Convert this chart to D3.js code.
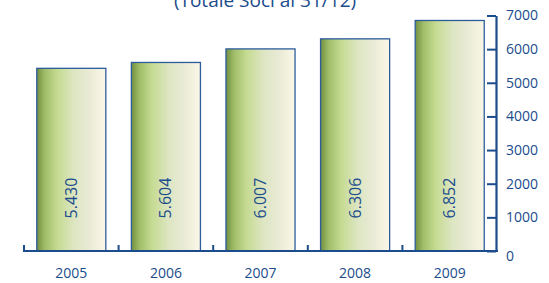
<!DOCTYPE html>
<html>
<head>
<meta charset="utf-8">
<script src="https://cdn.jsdelivr.net/npm/d3@7"></script>
<style>
  body { margin: 0; background: #fff; }
  svg { display: block; font-family: "Open Sans", "Noto Sans", sans-serif; }
</style>
</head>
<body>
<svg width="549" height="283"></svg>
<script>
let years = ["2005", "2006", "2007", "2008", "2009"];
let soci = [5430, 5604, 6007, 6306, 6852];
let yTicks = [0, 1000, 2000, 3000, 4000, 5000, 6000, 7000];
let title = "(Totale Soci al 31/12)";

let blue = "#1b4c8c";
let svg = d3.select("svg");

let x = d3.scaleBand()
    .domain(years)
    .range([24, 497])
    .paddingInner(0.27)
    .paddingOuter(0.135);

let y = d3.scaleLinear()
    .domain([0, 7000])
    .range([251, 15.5]);

// gradient for the bars
let grad = svg.append("defs").append("linearGradient")
    .attr("id", "barGrad")
    .attr("x1", "0%").attr("x2", "100%");
[["0%", "#718f40"], ["12%", "#a1be6a"], ["30%", "#c5db92"], ["55%", "#dee6c4"], ["75%", "#e8ead4"], ["100%", "#fbf7e8"]]
  .forEach(function(s){
    grad.append("stop").attr("offset", s[0]).attr("stop-color", s[1]);
  });

// title (cut at top, as in the original)
svg.append("text")
    .attr("x", 265)
    .attr("y", 7)
    .attr("text-anchor", "middle")
    .attr("fill", blue)
    .style("font-size", "19px")
    .text(title);

// bars
svg.selectAll(".bar")
    .data(soci)
    .enter()
    .append("rect")
    .attr("class", "bar")
    .attr("x", function(d, i){ return x(years[i]); })
    .attr("y", function(d){ return y(d); })
    .attr("width", x.bandwidth())
    .attr("height", function(d){ return y(0) - y(d); })
    .attr("fill", "url(#barGrad)")
    .attr("stroke", "#2c5c9c")
    .attr("stroke-width", 1.3);

// value labels, rotated
svg.selectAll(".val")
    .data(soci)
    .enter()
    .append("text")
    .attr("class", "val")
    .attr("transform", function(d, i){
      return `translate(${x(years[i]) + x.bandwidth() / 2 + 5.5}, 198) rotate(-90)`;
    })
    .attr("text-anchor", "middle")
    .attr("fill", blue)
    .style("font-size", "16px")
    .text(function(d){ return d3.format(",")(d).replace(",", "."); });

// bottom axis with ticks at category boundaries
let bottom = svg.append("g");
bottom.append("line")
    .attr("x1", 23).attr("x2", 498)
    .attr("y1", y(0)).attr("y2", y(0))
    .attr("stroke", blue).attr("stroke-width", 2.2);
let step = x.step();
d3.range(5).forEach(function(i){
  let bx = 24 + i * step;
  bottom.append("line")
      .attr("x1", bx).attr("x2", bx)
      .attr("y1", y(0)).attr("y2", y(0) - 6)
      .attr("stroke", blue).attr("stroke-width", 2);
});
bottom.selectAll(".year")
    .data(years)
    .enter()
    .append("text")
    .attr("class", "year")
    .attr("x", function(d){ return x(d) + x.bandwidth() / 2; })
    .attr("y", 278)
    .attr("text-anchor", "middle")
    .attr("fill", blue)
    .style("font-size", "14px")
    .text(function(d){ return d; });

// right axis
let axisR = d3.axisRight(y)
    .tickValues(yTicks)
    .tickSize(0)
    .tickPadding(10)
    .tickFormat(d3.format("d"));
let gR = svg.append("g")
    .attr("transform", "translate(496,0)")
    .call(axisR);
gR.select(".domain")
    .attr("stroke", blue)
    .attr("stroke-width", 2.2);
gR.selectAll(".tick text")
    .attr("fill", blue)
    .style("font-size", "14px")
    .style("font-family", "'Open Sans', sans-serif")
    .attr("dy", function(d){ return d === 0 ? "0.7em" : "0.32em"; });
gR.selectAll(".tick")
    .append("line")
    .attr("x1", -9).attr("x2", 0)
    .attr("stroke", blue).attr("stroke-width", 2);
</script>
</body>
</html>
